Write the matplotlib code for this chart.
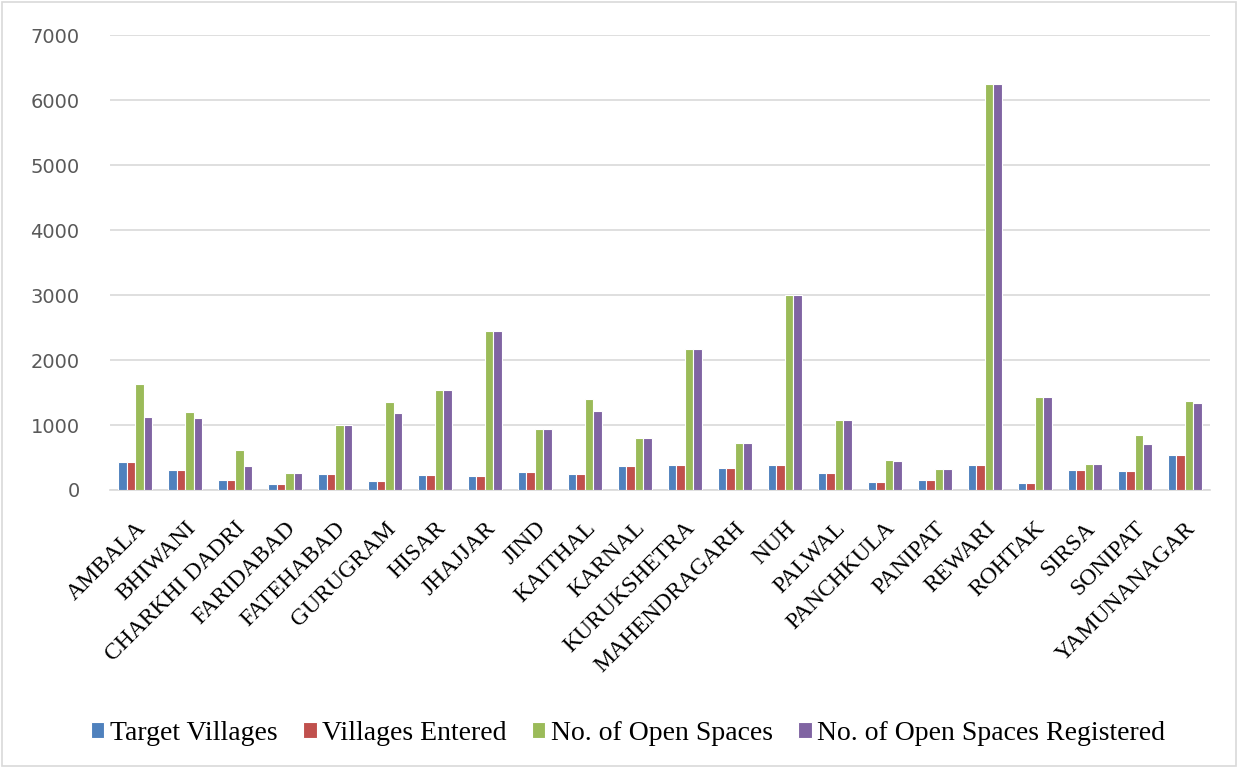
import numpy as np
import matplotlib.pyplot as plt
from matplotlib.patches import Rectangle

districts = ["AMBALA", "BHIWANI", "CHARKHI DADRI", "FARIDABAD", "FATEHABAD",
             "GURUGRAM", "HISAR", "JHAJJAR", "JIND", "KAITHAL", "KARNAL",
             "KURUKSHETRA", "MAHENDRAGARH", "NUH", "PALWAL", "PANCHKULA",
             "PANIPAT", "REWARI", "ROHTAK", "SIRSA", "SONIPAT", "YAMUNANAGAR"]

target_villages = [425, 300, 161, 88, 249, 145, 238, 218, 280, 249, 373,
                   389, 342, 389, 259, 130, 161, 378, 104, 300, 285, 539]
villages_entered = [425, 300, 161, 88, 249, 145, 238, 218, 280, 249, 373,
                    389, 342, 389, 259, 130, 161, 378, 104, 300, 285, 539]
open_spaces = [1637, 1207, 611, 254, 1005, 1358, 1544, 2450, 943, 1404, 803,
               2165, 725, 3000, 1073, 461, 321, 6250, 1435, 404, 839, 1368]
open_spaces_reg = [1124, 1104, 373, 254, 1005, 1187, 1544, 2450, 943, 1223, 803,
                   2165, 725, 3000, 1073, 440, 316, 6250, 1435, 404, 710, 1337]

series = [("Target Villages", target_villages, "#4f81bd"),
          ("Villages Entered", villages_entered, "#c0504d"),
          ("No. of Open Spaces", open_spaces, "#9bbb59"),
          ("No. of Open Spaces Registered", open_spaces_reg, "#8064a2")]

fig = plt.figure(figsize=(12.38, 7.68), dpi=100)
ax = fig.add_axes([0.089, 0.362, 0.888, 0.592])

x = np.arange(len(districts))
w = 0.17
for i, (name, vals, col) in enumerate(series):
    ax.bar(x + (i - 1.5) * w, vals, w, color=col, edgecolor="white",
           linewidth=0.8, label=name, zorder=3)

ax.set_xlim(-0.5, len(districts) - 0.5)
ax.set_ylim(0, 7000)
ax.set_yticks(range(0, 7001, 1000))
ax.yaxis.grid(True, color="#d9d9d9", linewidth=1.2, zorder=0)
for s in ["top", "right", "left"]:
    ax.spines[s].set_visible(False)
ax.spines["bottom"].set_color("#d9d9d9")
ax.spines["bottom"].set_linewidth(1.2)
ax.tick_params(axis="both", length=0)
ax.tick_params(axis="y", labelsize=14, labelcolor="#595959", pad=22)
ax.tick_params(axis="x", pad=20)
ax.set_xticks(x)
ax.set_xticklabels(districts, rotation=45, ha="right", rotation_mode="anchor",
                   family="Liberation Serif", fontsize=17)

ax.legend(loc="center", bbox_to_anchor=(628 / 1238, 1 - 733 / 768),
          bbox_transform=fig.transFigure, ncol=4, frameon=False,
          prop={"family": "Liberation Serif", "size": 20},
          handlelength=0.5, handleheight=0.5, handletextpad=0.2,
          columnspacing=0.9)

fig.patches.append(Rectangle((0.002, 0.002), 0.996, 0.996, transform=fig.transFigure,
                             fill=False, edgecolor="#d9d9d9", linewidth=1.2))

fig.savefig("out.png", dpi=100)
